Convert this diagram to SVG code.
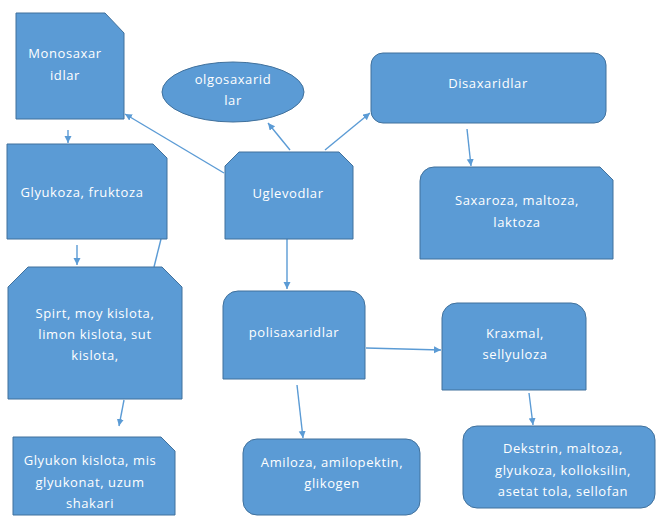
<svg xmlns="http://www.w3.org/2000/svg" width="656" height="518" viewBox="0 0 656 518">
<style>
.n{fill:#5B9BD5;stroke:#41719C;stroke-width:1}
.t{fill:#FFFFFF;font-family:"Open Sans","Liberation Sans",sans-serif;font-size:13px;text-anchor:middle;letter-spacing:0.6px}
.c{stroke:#5B9BD5;stroke-width:1.4;fill:none}
.a{marker-end:url(#ah)}
</style>
<defs>
<marker id="ah" markerUnits="userSpaceOnUse" markerWidth="9" markerHeight="9" refX="7" refY="3.5" orient="auto">
<path d="M0,0 L7,3.5 L0,7 Z" fill="#5B9BD5"/>
</marker>
</defs>
<rect width="656" height="518" fill="#FFFFFF"/>
<g id="connectors">
<line class="c a" x1="224" y1="173" x2="125" y2="114"/>
<line class="c a" x1="290" y1="150" x2="268" y2="123"/>
<line class="c a" x1="325" y1="150" x2="370" y2="113"/>
<line class="c a" x1="287" y1="239" x2="287" y2="289"/>
<line class="c a" x1="68" y1="130" x2="68" y2="143"/>
<line class="c a" x1="77" y1="245" x2="77" y2="265"/>
<line class="c" x1="161" y1="239" x2="154" y2="267"/>
<line class="c a" x1="467" y1="129" x2="471" y2="166"/>
<line class="c a" x1="124" y1="400" x2="119" y2="426"/>
<line class="c a" x1="366" y1="348" x2="441" y2="350"/>
<line class="c a" x1="529" y1="393" x2="533" y2="425"/>
<line class="c a" x1="297" y1="385" x2="303" y2="438"/>
</g>
<g id="monosaxaridlar">
<path class="n" d="M16,13 H105 L124,33 V119 H16 Z"/>
<text class="t" x="65" y="58">Monosaxar</text>
<text class="t" x="65" y="80">idlar</text>
</g>
<g id="olgosaxaridlar">
<ellipse class="n" cx="233" cy="92" rx="71" ry="30"/>
<text class="t" x="233" y="84">olgosaxarid</text>
<text class="t" x="233" y="105">lar</text>
</g>
<g id="disaxaridlar">
<rect class="n" x="371" y="53" width="235" height="70" rx="12"/>
<text class="t" x="488" y="88">Disaxaridlar</text>
</g>
<g id="saxaroza">
<path class="n" d="M420,181 A14,14 0 0 1 434,167 H600 L613,180 V259 H420 Z"/>
<text class="t" x="517" y="205">Saxaroza, maltoza,</text>
<text class="t" x="517" y="227">laktoza</text>
</g>
<g id="glyukoza">
<path class="n" d="M7,144 H153 L167,158 V239 H7 Z"/>
<text class="t" x="82" y="197">Glyukoza,  fruktoza</text>
</g>
<g id="uglevodlar">
<path class="n" d="M225,166 L239,152 H339 L353,166 V239 H225 Z"/>
<text class="t" x="288" y="198">Uglevodlar</text>
</g>
<g id="spirt">
<path class="n" d="M8,287 L28,267 H162 L182,287 V399 H8 Z"/>
<text class="t" x="95" y="318">Spirt, moy kislota,</text>
<text class="t" x="95" y="339">limon kislota, sut</text>
<text class="t" x="95" y="360">kislota,</text>
</g>
<g id="glyukon">
<path class="n" d="M13,437 H161 L175,451 V515 H13 Z"/>
<text class="t" x="90" y="465">Glyukon kislota,  mis</text>
<text class="t" x="90" y="487">glyukonat, uzum</text>
<text class="t" x="90" y="508">shakari</text>
</g>
<g id="polisaxaridlar">
<path class="n" d="M223,379 V306 A15,15 0 0 1 238,291 H350 A15,15 0 0 1 365,306 V379 Z"/>
<text class="t" x="294" y="337">polisaxaridlar</text>
</g>
<g id="kraxmal">
<path class="n" d="M442,390 V318 A15,15 0 0 1 457,303 H571 A15,15 0 0 1 586,318 V390 Z"/>
<text class="t" x="515" y="338">Kraxmal,</text>
<text class="t" x="515" y="359">sellyuloza</text>
</g>
<g id="dekstrin">
<rect class="n" x="463" y="426" width="192" height="82" rx="14"/>
<text class="t" x="563" y="453">Dekstrin, maltoza,</text>
<text class="t" x="563" y="475">glyukoza, kolloksilin,</text>
<text class="t" x="563" y="496">asetat tola,  sellofan</text>
</g>
<g id="amiloza">
<rect class="n" x="243" y="439" width="177" height="76" rx="14"/>
<text class="t" x="332" y="467">Amiloza, amilopektin,</text>
<text class="t" x="332" y="488">glikogen</text>
</g>
</svg>
